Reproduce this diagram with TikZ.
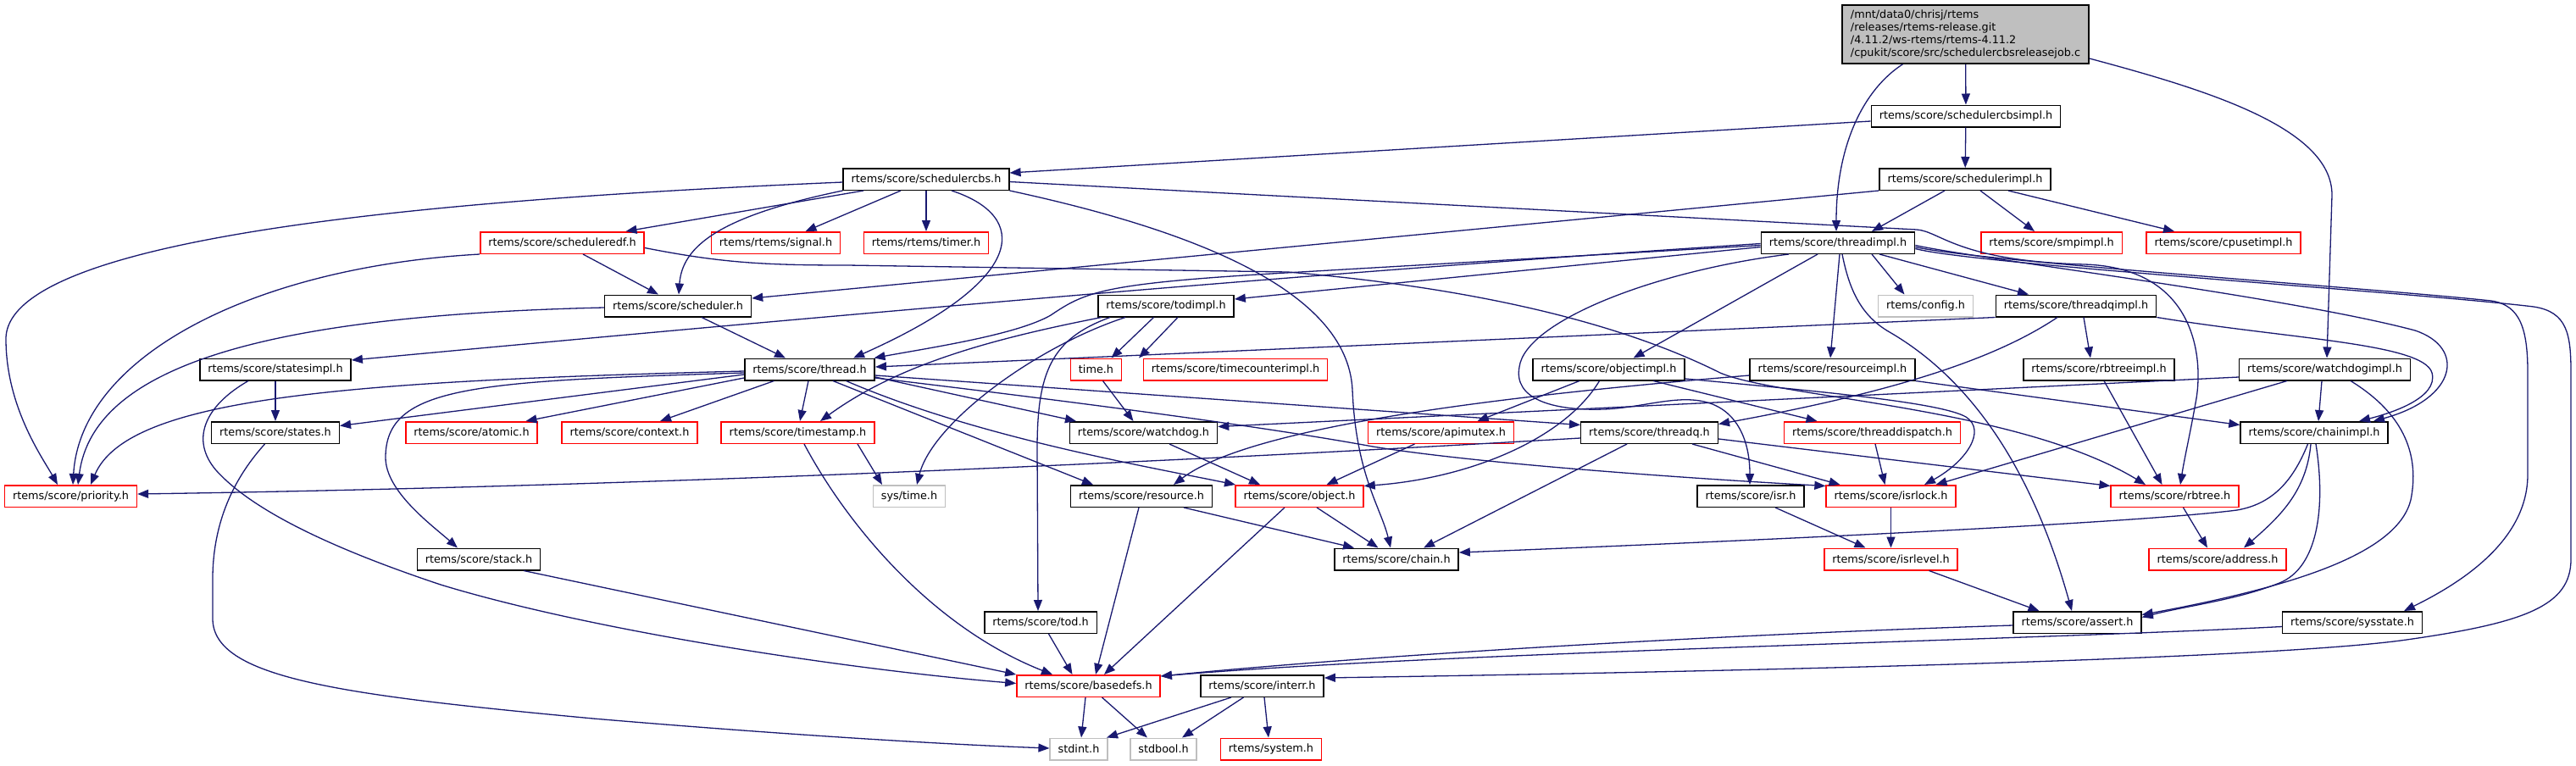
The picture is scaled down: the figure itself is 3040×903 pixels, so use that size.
\documentclass[tikz,border=0pt]{standalone}
\usepackage{fontspec}
\newfontfamily\doxyfont{DejaVu Sans}
\usetikzlibrary{arrows.meta}
\definecolor{edgeblue}{HTML}{191970}
\definecolor{nodegray}{HTML}{BFBFBF}

\begin{document}
\begin{tikzpicture}
    [
        x=1pt, y=-1pt,
        header/.style={draw=black, fill=white, line width=1.5pt, minimum height=25.5pt,
                       inner xsep=9.5pt, inner ysep=2pt,
                       font=\doxyfont\fontsize{12.8}{14.7}\selectfont},
        truncated/.style={header, draw=red},
        external/.style={header, draw=nodegray},
        mainfile/.style={header, fill=nodegray, align=left, minimum height=69pt, inner xsep=10pt},
        dep/.style={draw=edgeblue, line width=1.3pt, -{Triangle[length=13pt, width=10pt]}}
    ]
    \path [use as bounding box, fill=white] (0,0) rectangle (3040,903);

    \node (root) [mainfile] at (2319.5,40.5) {/mnt/data0/chrisj/rtems\\/releases/rtems-release.git\\/4.11.2/ws-rtems/rtems-4.11.2\\/cpukit/score/src/schedulercbsreleasejob.c};
    \node (schedcbsimpl) [header] at (2320,137) {rtems/score/schedulercbsimpl.h};
    \node (schedcbs) [header] at (1093,211.5) {rtems/score/schedulercbs.h};
    \node (schedimpl) [header] at (2319,211.5) {rtems/score/schedulerimpl.h};
    \node (scheduleredf) [truncated] at (663.5,286.5) {rtems/score/scheduleredf.h};
    \node (signal) [truncated] at (915.5,286.5) {rtems/rtems/signal.h};
    \node (timer) [truncated] at (1093,286.5) {rtems/rtems/timer.h};
    \node (threadimpl) [header] at (2169,286.5) {rtems/score/threadimpl.h};
    \node (smpimpl) [truncated] at (2421,286.5) {rtems/score/smpimpl.h};
    \node (cpusetimpl) [truncated] at (2624,286.5) {rtems/score/cpusetimpl.h};
    \node (scheduler) [header] at (800,361) {rtems/score/scheduler.h};
    \node (todimpl) [header] at (1376,361) {rtems/score/todimpl.h};
    \node (config) [external] at (2272.5,361) {rtems/config.h};
    \node (threadqimpl) [header] at (2450,361) {rtems/score/threadqimpl.h};
    \node (statesimpl) [header] at (325,436) {rtems/score/statesimpl.h};
    \node (thread) [header] at (955.5,436) {rtems/score/thread.h};
    \node (time) [truncated] at (1293.5,436) {time.h};
    \node (timecounterimpl) [truncated] at (1458,436) {rtems/score/timecounterimpl.h};
    \node (objectimpl) [header] at (1898.5,436) {rtems/score/objectimpl.h};
    \node (resourceimpl) [header] at (2162.5,436) {rtems/score/resourceimpl.h};
    \node (rbtreeimpl) [header] at (2477,436) {rtems/score/rbtreeimpl.h};
    \node (watchdogimpl) [header] at (2743.5,436) {rtems/score/watchdogimpl.h};
    \node (states) [header] at (325,510.5) {rtems/score/states.h};
    \node (atomic) [truncated] at (556.5,510.5) {rtems/score/atomic.h};
    \node (context) [truncated] at (743,510.5) {rtems/score/context.h};
    \node (timestamp) [truncated] at (941.5,510.5) {rtems/score/timestamp.h};
    \node (watchdog) [header] at (1349.5,510.5) {rtems/score/watchdog.h};
    \node (apimutex) [truncated] at (1700.5,510.5) {rtems/score/apimutex.h};
    \node (threadq) [header] at (1946.5,510.5) {rtems/score/threadq.h};
    \node (threaddispatch) [truncated] at (2209.5,510.5) {rtems/score/threaddispatch.h};
    \node (chainimpl) [header] at (2731,510.5) {rtems/score/chainimpl.h};
    \node (priority) [truncated] at (83.5,585.5) {rtems/score/priority.h};
    \node (systime) [external] at (1073,585.5) {sys/time.h};
    \node (resource) [header] at (1347,585.5) {rtems/score/resource.h};
    \node (object) [truncated] at (1533.5,585.5) {rtems/score/object.h};
    \node (isr) [header] at (2066,585.5) {rtems/score/isr.h};
    \node (isrlock) [truncated] at (2231.5,585.5) {rtems/score/isrlock.h};
    \node (rbtree) [truncated] at (2566.5,585.5) {rtems/score/rbtree.h};
    \node (stack) [header] at (565,660) {rtems/score/stack.h};
    \node (chain) [header] at (1648,660) {rtems/score/chain.h};
    \node (isrlevel) [truncated] at (2231.5,660) {rtems/score/isrlevel.h};
    \node (address) [truncated] at (2617,660) {rtems/score/address.h};
    \node (tod) [header] at (1228,734.5) {rtems/score/tod.h};
    \node (assert) [header] at (2451.5,734.5) {rtems/score/assert.h};
    \node (sysstate) [header] at (2776,734.5) {rtems/score/sysstate.h};
    \node (basedefs) [truncated] at (1284.5,809.5) {rtems/score/basedefs.h};
    \node (interr) [header] at (1489.5,809.5) {rtems/score/interr.h};
    \node (stdint) [external] at (1273,884) {stdint.h};
    \node (stdbool) [external] at (1373,884) {stdbool.h};
    \node (system) [truncated] at (1500,884) {rtems/system.h};

    \draw [dep] (root) -- (schedcbsimpl);
    \draw [dep] ([xshift=-74pt]root.south) .. controls (2200,105) and (2167,170) .. ([xshift=-2pt]threadimpl.north);
    \draw [dep] ([yshift=-28.5pt]root.east) .. controls (2600,105) and (2752,150) .. (2752,230) -- ([xshift=2.5pt]watchdogimpl.north);

    \draw [dep] ([yshift=-6pt]schedcbsimpl.west) -- ([yshift=7.5pt]schedcbs.east);
    \draw [dep] (schedcbsimpl) -- (schedimpl);

    \draw [dep] ([yshift=-3.5pt]schedcbs.west) .. controls (600,232) and (7,270) .. (7,400) .. controls (7,480) and (50,540) .. ([xshift=-15.5pt]priority.north);
    \draw [dep] ([xshift=-74pt]schedcbs.south) -- ([xshift=75pt]scheduleredf.north);
    \draw [dep] (schedcbs.south west) .. controls (850,255) and (805,290) .. ([xshift=1pt]scheduler.north);
    \draw [dep] ([xshift=-30pt]schedcbs.south) -- ([xshift=35pt]signal.north);
    \draw [dep] (schedcbs) -- (timer);
    \draw [dep] ([xshift=30pt]schedcbs.south) .. controls (1215,255) and (1215,330) .. ([xshift=51.5pt]thread.north);
    \draw [dep] (schedcbs.south east) .. controls (1400,270) and (1590,340) .. (1596,460) .. controls (1600,560) and (1630,600) .. ([xshift=-7pt]chain.north);
    \draw [dep] ([yshift=-3pt]schedcbs.east) -- (2262,271) .. controls (2290,273) and (2310,308) .. (2460,312) .. controls (2590,316) and (2600,420) .. (2592,470) .. controls (2585,510) and (2578,540) .. ([xshift=6.5pt]rbtree.north);

    \draw [dep] (scheduleredf.south west) .. controls (300,315) and (95,420) .. ([xshift=2.5pt]priority.north);
    \draw [dep] ([xshift=24.5pt]scheduleredf.south) -- ([xshift=-23pt]scheduler.north);
    \draw [dep] ([yshift=-6pt]scheduleredf.east) .. controls (850,310) and (900,313) .. (1000,313) -- (1520,321) .. controls (1800,345) and (1950,400) .. (2030,440) .. controls (2100,470) and (2380,480) .. ([xshift=-34.5pt]rbtree.north);

    \draw [dep] ([yshift=-2pt]scheduler.west) .. controls (320,372) and (110,430) .. ([xshift=8.5pt]priority.north);
    \draw [dep] ([xshift=28pt]scheduler.south) -- ([xshift=-28.5pt]thread.north);

    \draw [dep] (schedimpl.south west) -- ([yshift=9pt]scheduler.east);
    \draw [dep] ([xshift=-24pt]schedimpl.south) -- ([xshift=40pt]threadimpl.north);
    \draw [dep] ([xshift=18pt]schedimpl.south) -- ([xshift=-20pt]smpimpl.north);
    \draw [dep] ([xshift=51pt]schedimpl.south) -- ([xshift=-58pt]cpusetimpl.north);

    \draw [dep] ([yshift=-3pt]threadimpl.west) -- (1500,323) .. controls (1300,335) and (1280,345) .. (1240,372) .. controls (1200,395) and (1100,410) .. ([xshift=76pt]thread.north);
    \draw [dep] ([yshift=-1pt]threadimpl.west) .. controls (1500,325) and (900,380) .. ([yshift=11pt]statesimpl.east);
    \draw [dep] ([yshift=-5pt]threadimpl.west) -- ([yshift=8pt]todimpl.east);
    \draw [dep] ([xshift=40pt]threadimpl.south) -- ([xshift=-25pt]config.north);
    \draw [dep] ([xshift=49pt]threadimpl.south) -- ([xshift=-56pt]threadqimpl.north);
    \draw [dep] ([xshift=-24pt]threadimpl.south) -- ([xshift=29pt]objectimpl.north);
    \draw [dep] ([xshift=-58pt]threadimpl.south) .. controls (1950,320) and (1800,380) .. (1793,433) .. controls (1786,470) and (1830,485) .. (1893,483) .. controls (1940,481) and (1980,465) .. (2015,475) .. controls (2050,485) and (2065,520) .. ([xshift=-1pt]isr.north);
    \draw [dep] ([xshift=2pt]threadimpl.south) -- ([xshift=-2.5pt]resourceimpl.north);
    \draw [dep] ([xshift=5pt]threadimpl.south) .. controls (2182,340) and (2195,372) .. (2230,392) .. controls (2330,450) and (2400,560) .. ([xshift=-6.5pt]assert.north);
    \draw [dep] ([yshift=-3pt]threadimpl.east) .. controls (2330,305) and (2700,350) .. (2850,390) .. controls (2910,410) and (2900,470) .. ([xshift=70pt]chainimpl.north);
    \draw [dep] ([yshift=-5pt]threadimpl.east) .. controls (2330,308) and (2800,340) .. (2940,355) .. controls (2975,360) and (2983,390) .. (2983,440) -- (2983,560) .. controls (2983,640) and (2900,690) .. ([xshift=61pt]sysstate.north);
    \draw [dep] ([yshift=-7pt]threadimpl.east) .. controls (2330,312) and (2850,345) .. (2990,362) .. controls (3030,368) and (3034,395) .. (3034,440) -- (3034,660) .. controls (3034,715) and (2980,735) .. (2840,755) .. controls (2700,775) and (2200,790) .. ([yshift=9.5pt]interr.east);

    \draw [dep] (threadqimpl.south west) -- ([yshift=3pt]thread.east);
    \draw [dep] ([xshift=-22pt]threadqimpl.south) .. controls (2360,420) and (2250,460) .. ([yshift=10pt]threadq.east);
    \draw [dep] ([xshift=9pt]threadqimpl.south) -- ([xshift=-10pt]rbtreeimpl.north);
    \draw [dep] (threadqimpl.south east) .. controls (2700,400) and (2860,405) .. (2870,440) .. controls (2878,470) and (2820,488) .. ([xshift=53pt]chainimpl.north);
    \draw [dep] ([xshift=6pt]rbtreeimpl.south) -- ([xshift=-15pt]rbtree.north);

    \draw [dep] ([xshift=-3.5pt]watchdogimpl.south) -- ([xshift=5pt]chainimpl.north);
    \draw [dep] ([yshift=-9pt]watchdogimpl.west) -- ([yshift=7pt]watchdog.east);
    \draw [dep] ([xshift=-44.5pt]watchdogimpl.south) -- ([xshift=53pt]isrlock.north);
    \draw [dep] ([xshift=30.5pt]watchdogimpl.south) .. controls (2840,490) and (2855,540) .. (2845,590) .. controls (2830,650) and (2720,690) .. ([yshift=9pt]assert.east);

    \draw [dep] ([xshift=-7.5pt]chainimpl.south) .. controls (2705,570) and (2680,595) .. (2640,602) .. controls (2500,620) and (1900,645) .. ([yshift=8pt]chain.east);
    \draw [dep] ([xshift=-4pt]chainimpl.south) .. controls (2722,580) and (2690,610) .. ([xshift=31pt]address.north);
    \draw [dep] ([xshift=2pt]chainimpl.south) .. controls (2745,600) and (2735,670) .. (2690,688) .. controls (2640,708) and (2580,715) .. ([yshift=6pt]assert.east);
    \draw [dep] ([xshift=10pt]rbtree.south) -- ([xshift=-12pt]address.north);

    \draw [dep] ([xshift=29pt]isr.south) -- ([xshift=-30pt]isrlevel.north);
    \draw [dep] (isrlock) -- (isrlevel);
    \draw [dep] ([xshift=45pt]isrlevel.south) -- ([xshift=-45pt]assert.north);

    \draw [dep] ([yshift=-6.5pt]threadq.west) .. controls (1300,550) and (700,575) .. ([yshift=2.5pt]priority.east);
    \draw [dep] ([xshift=-26.5pt]threadq.south) -- ([xshift=32pt]chain.north);
    \draw [dep] ([xshift=50.5pt]threadq.south) -- ([xshift=-60pt]isrlock.north);
    \draw [dep] ([yshift=-7.5pt]threadq.east) -- ([yshift=12pt]rbtree.west);
    \draw [dep] ([xshift=3.5pt]threaddispatch.south) -- ([xshift=-7pt]isrlock.north);

    \draw [dep] ([xshift=-34.5pt]objectimpl.south) -- ([xshift=43pt]apimutex.north);
    \draw [dep] ([xshift=-11pt]objectimpl.south) .. controls (1845,520) and (1730,565) .. ([yshift=12pt]object.east);
    \draw [dep] ([xshift=52.5pt]objectimpl.south) -- ([xshift=-65pt]threaddispatch.north);
    \draw [dep] ([yshift=-11pt]objectimpl.east) .. controls (2150,462) and (2290,475) .. (2320,492) .. controls (2345,508) and (2320,545) .. ([xshift=39.5pt]isrlock.north);
    \draw [dep] ([xshift=-31pt]apimutex.south) -- ([xshift=32pt]object.north);

    \draw [dep] ([yshift=-7pt]resourceimpl.west) .. controls (1800,465) and (1480,500) .. ([xshift=38pt]resource.north);
    \draw [dep] (resourceimpl.south east) -- ([yshift=9pt]chainimpl.west);

    \draw [dep] ([yshift=-2pt]thread.west) .. controls (400,450) and (150,470) .. ([xshift=23.5pt]priority.north);
    \draw [dep] ([yshift=-4pt]thread.west) .. controls (560,450) and (455,455) .. (455,540) .. controls (455,580) and (510,620) .. ([xshift=-25pt]stack.north);
    \draw [dep] ([yshift=-6pt]thread.west) -- ([yshift=8pt]states.east);
    \draw [dep] ([yshift=-10pt]thread.west) -- ([xshift=64pt]atomic.north);
    \draw [dep] ([xshift=-42pt]thread.south) -- ([xshift=36pt]context.north);
    \draw [dep] ([xshift=-1.5pt]thread.south) -- ([xshift=2.5pt]timestamp.north);
    \draw [dep] ([yshift=-9pt]thread.east) -- ([xshift=-79.5pt]watchdog.north);
    \draw [dep] ([xshift=27.5pt]thread.south) -- ([xshift=-57pt]resource.north);
    \draw [dep] ([xshift=43pt]thread.south) .. controls (1150,515) and (1350,550) .. ([xshift=-75.5pt]object.north);
    \draw [dep] ([yshift=-7pt]thread.east) -- ([yshift=9pt]threadq.west);
    \draw [dep] ([yshift=-10pt]thread.east) .. controls (1300,478) and (1500,505) .. (1620,527) .. controls (1750,548) and (2000,565) .. ([yshift=12pt]isrlock.west);

    \draw [dep] (statesimpl) -- (states);
    \draw [dep] ([xshift=-32pt]statesimpl.south) .. controls (240,480) and (225,520) .. (255,555) .. controls (300,605) and (400,650) .. (520,690) .. controls (700,745) and (1000,790) .. ([yshift=3pt]basedefs.west);
    \draw [dep] ([xshift=-12.5pt]states.south) .. controls (280,560) and (252,610) .. (251,680) -- (251,730) .. controls (251,800) and (400,820) .. (700,848) .. controls (900,865) and (1100,878) .. ([yshift=1pt]stdint.west);
    \draw [dep] ([xshift=53pt]stack.south) -- (basedefs.north west);

    \draw [dep] ([xshift=-76pt]todimpl.south) .. controls (1170,400) and (1060,430) .. ([xshift=26.5pt]timestamp.north);
    \draw [dep] ([xshift=-48pt]todimpl.south) .. controls (1220,410) and (1100,500) .. ([xshift=9pt]systime.north);
    \draw [dep] ([xshift=-66pt]todimpl.south) .. controls (1240,400) and (1224,440) .. (1224,530) -- ([xshift=-3pt]tod.north);
    \draw [dep] ([xshift=-14.5pt]todimpl.south) -- ([xshift=18pt]time.north);
    \draw [dep] ([xshift=14pt]todimpl.south) -- ([xshift=-114pt]timecounterimpl.north);
    \draw [dep] ([xshift=8pt]time.south) -- ([xshift=-12pt]watchdog.north);
    \draw [dep] ([xshift=70.5pt]timestamp.south) -- ([xshift=-32pt]systime.north);
    \draw [dep] ([xshift=7.5pt]timestamp.south) .. controls (1000,620) and (1100,740) .. ([xshift=-42.5pt]basedefs.north);
    \draw [dep] ([xshift=30.5pt]watchdog.south) -- ([xshift=-46.5pt]object.north);

    \draw [dep] ([xshift=9.5pt]tod.south) -- ([xshift=-19pt]basedefs.north);
    \draw [dep] ([xshift=-3pt]resource.south) -- ([xshift=8.5pt]basedefs.north);
    \draw [dep] ([xshift=50pt]resource.south) -- ([xshift=-50pt]chain.north);
    \draw [dep] ([xshift=-17.5pt]object.south) -- ([xshift=18.5pt]basedefs.north);
    \draw [dep] ([xshift=20.5pt]object.south) -- ([xshift=-21.5pt]chain.north);
    \draw [dep] ([yshift=-3.5pt]assert.west) .. controls (2000,750) and (1600,775) .. ([yshift=11.5pt]basedefs.east);
    \draw [dep] ([yshift=-5pt]sysstate.west) .. controls (2400,755) and (1700,770) .. ([yshift=11.5pt]basedefs.east);

    \draw [dep] ([xshift=-3.5pt]basedefs.south) -- ([xshift=3pt]stdint.north);
    \draw [dep] ([xshift=16pt]basedefs.south) -- ([xshift=-19pt]stdbool.north);
    \draw [dep] ([xshift=-36.5pt]interr.south) -- ([xshift=33pt]stdint.north);
    \draw [dep] ([xshift=-22pt]interr.south) -- ([xshift=22pt]stdbool.north);
    \draw [dep] ([xshift=2.5pt]interr.south) -- ([xshift=-3pt]system.north);
\end{tikzpicture}
\end{document}
